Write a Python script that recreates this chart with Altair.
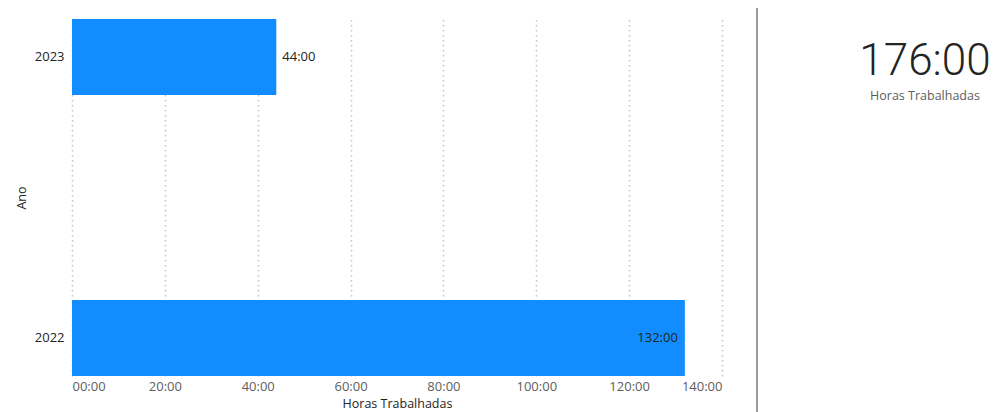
import altair as alt
import pandas as pd

anos = ["2022", "2023"]
horas = [132, 44]
x_ticks = [0, 20, 40, 60, 80, 100, 120, 140]
kpi_label = "Horas Trabalhadas"

df = pd.DataFrame({"Ano": anos, "Horas": horas})

FONT = "Open Sans"
FS = 13
W, H = 650, 357

base = alt.Chart(df)

x_enc = alt.X(
    "Horas:Q",
    scale=alt.Scale(domain=[0, 140], nice=False, zero=True),
    axis=alt.Axis(
        values=x_ticks,
        labelExpr="format(datum.value, '02d') + ':00'",
        title="Horas Trabalhadas",
        grid=True,
        gridDash=[1.5, 3.5],
        gridColor="#C4C4C4",
        gridWidth=1.5,
        domain=False,
        ticks=False,
        labelPadding=4,
        labelFont=FONT,
        labelFontSize=FS,
        labelColor="#605E5C",
        titleFont=FONT,
        titleFontSize=12.5,
        titleFontWeight="normal",
        titleColor="#252423",
        titleBaseline="top",
        titleY=21,
    ),
)
y_enc = alt.Y(
    "Ano:N",
    sort="descending",
    scale=alt.Scale(paddingInner=0.73, paddingOuter=0),
    axis=alt.Axis(
        title="Ano",
        domain=False,
        ticks=False,
        grid=False,
        labelPadding=8,
        labelFont=FONT,
        labelFontSize=FS,
        labelColor="#252423",
        titleFont=FONT,
        titleFontSize=12.5,
        titleFontWeight="normal",
        titleColor="#252423",
        titlePadding=6,
    ),
)

bars = base.mark_bar(color="#118DFF").encode(x=x_enc, y=y_enc)

lbl_out = base.transform_filter("datum.Horas < 100").transform_calculate(
    txt="format(datum.Horas, 'd') + ':00'"
).mark_text(align="left", baseline="middle", dx=6, font=FONT, fontSize=FS, color="#252423").encode(
    x="Horas:Q", y=alt.Y("Ano:N", sort="descending"), text="txt:N"
)
lbl_in = base.transform_filter("datum.Horas >= 100").transform_calculate(
    txt="format(datum.Horas, 'd') + ':00'"
).mark_text(align="right", baseline="middle", dx=-7, font=FONT, fontSize=FS, color="#252423").encode(
    x="Horas:Q", y=alt.Y("Ano:N", sort="descending"), text="txt:N"
)

total = base.transform_aggregate(total="sum(Horas)").transform_calculate(
    txt="format(datum.total, 'd') + ':00'", sub="'" + kpi_label + "'"
)
kpi = total.mark_text(
    align="center", baseline="alphabetic", font="Roboto", fontWeight=300, fontSize=44, color="#252423"
).encode(x=alt.value(853), y=alt.value(56), text="txt:N")
kpi_sub = total.mark_text(
    align="center", baseline="alphabetic", font=FONT, fontSize=12.5, color="#605E5C"
).encode(x=alt.value(853), y=alt.value(81), text="sub:N")

sep = total.mark_rule(color="#7A7A7A", strokeWidth=1.5).encode(
    x=alt.value(685), y=alt.value(-11), y2=alt.value(393)
)

chart = alt.layer(bars, lbl_out, lbl_in, sep, kpi, kpi_sub).properties(
    width=W,
    height=H,
    autosize=alt.AutoSizeParams(type="none"),
    padding={"left": 72, "top": 19, "right": 273, "bottom": 36},
).configure(background="white").configure_view(stroke=None, strokeWidth=0)

chart.save("out.html", embed_options={"renderer": "svg", "actions": False})
